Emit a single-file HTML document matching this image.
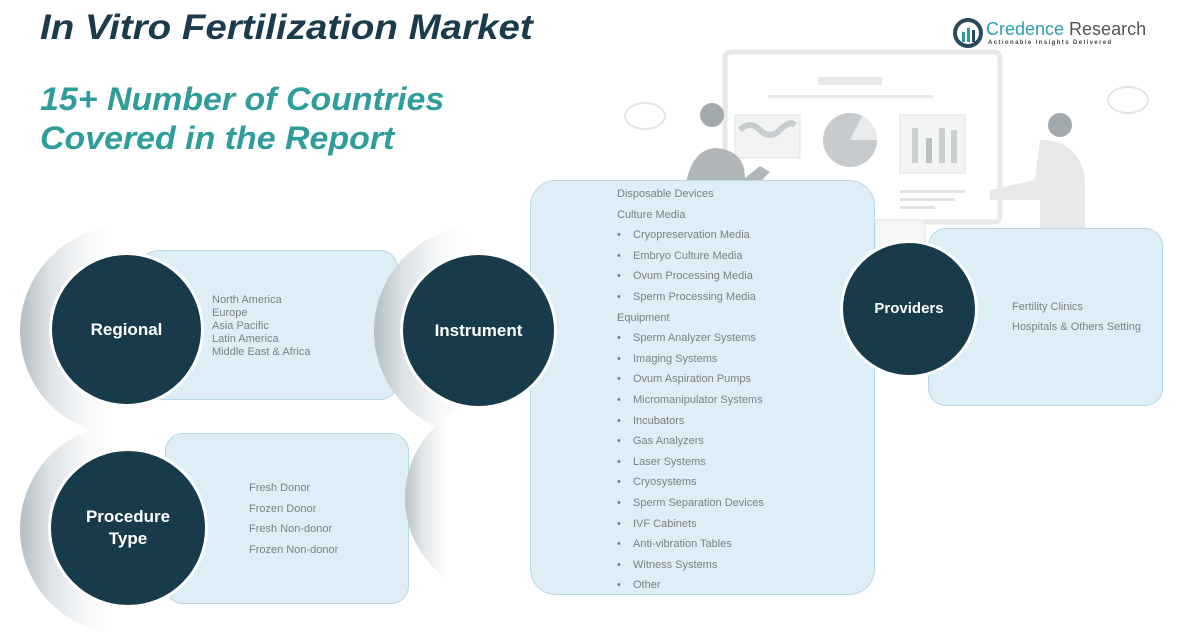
<!DOCTYPE html>
<html><head><meta charset="utf-8"><style>
*{margin:0;padding:0;box-sizing:border-box}
body{width:1203px;height:632px;background:#fff;position:relative;overflow:hidden;font-family:"Liberation Sans",sans-serif}
.abs{position:absolute}
.t1{left:40px;top:8px;font-size:35px;font-weight:bold;font-style:italic;color:#1b3a4b;white-space:nowrap;transform-origin:left top;transform:scaleX(1.1)}
.t2{left:40px;top:80px;font-size:32px;font-weight:bold;font-style:italic;color:#2f9e9b;line-height:39px;white-space:nowrap;transform-origin:left top;transform:scaleX(1.06)}
.box{position:absolute;background:#dfeef6;border:1.5px solid #b8d8e7;border-radius:18px}
.circ{position:absolute;border-radius:50%;background:#173b4b;color:#fff;font-weight:bold;font-size:17px;display:flex;align-items:center;justify-content:center;text-align:center;line-height:22px;border:3px solid #fff}
.shadow{position:absolute;border-radius:50%;background:linear-gradient(90deg,#b3bec3 0%,#dde2e5 14%,#f6f7f8 30%,#fff 45%)}
.lst{position:absolute;color:#7b8186;font-size:11px;white-space:nowrap}
.mid div{height:20.6px;line-height:20.6px}
.b{display:inline-block;width:16px}
</style></head><body>
<!-- illustration -->
<svg class="abs" style="left:600px;top:30px" width="603" height="220">
<rect x="125" y="22" width="275" height="170" rx="6" fill="none" stroke="#e6e8e9" stroke-width="5"/>
<rect x="218" y="47" width="64" height="8" fill="#e6e8e9"/>
<rect x="168" y="65" width="165" height="3" fill="#e8eaeb"/>
<rect x="135" y="85" width="65" height="43" fill="#f2f3f3" stroke="#e2e4e5"/>
<path d="M140 100 q10 -10 20 0 t20 0 t15 -5" stroke="#c8ccce" stroke-width="6" fill="none"/>
<circle cx="250" cy="110" r="27" fill="#c8cbcd"/>
<path d="M250 110 L262 86 A27 27 0 0 1 277 110 Z" fill="#e8eaeb"/>
<rect x="300" y="85" width="65" height="58" fill="#f3f4f4" stroke="#e2e4e5"/>
<rect x="312" y="98" width="6" height="35" fill="#cdd0d2"/><rect x="326" y="108" width="6" height="25" fill="#bcc0c2"/><rect x="339" y="98" width="6" height="35" fill="#cdd0d2"/><rect x="351" y="100" width="6" height="33" fill="#cdd0d2"/>
<rect x="300" y="160" width="65" height="3" fill="#e0e2e3"/><rect x="300" y="168" width="55" height="3" fill="#e0e2e3"/><rect x="300" y="176" width="35" height="3" fill="#e0e2e3"/>
<ellipse cx="45" cy="86" rx="20" ry="13" fill="none" stroke="#e3e5e6" stroke-width="2"/>
<ellipse cx="528" cy="70" rx="20" ry="13" fill="none" stroke="#e3e5e6" stroke-width="2"/>
<circle cx="112" cy="85" r="12" fill="#a3aaae"/>
<path d="M85 160 q5 -40 30 -42 q30 2 30 30 l15 -12 l10 6 l-25 25 l0 20 l-60 0 z" fill="#b1b6b9"/>
<circle cx="460" cy="95" r="12" fill="#a3aaae"/>
<path d="M440 110 q40 0 45 40 l0 50 l-45 0 l0 -30 l-50 0 l0 -10 l45 -10 z" fill="#e6e8e9"/>
<rect x="445" y="200" width="50" height="20" fill="#b1b6b9"/>
<rect x="275" y="190" width="50" height="33" fill="#f5f6f6" stroke="#e2e4e5"/>
</svg>
<div class="abs t1">In Vitro Fertilization Market</div>
<div class="abs t2">15+ Number of Countries<br>Covered in the Report</div>
<!-- logo -->
<svg class="abs" style="left:953px;top:18px" width="30" height="30"><circle cx="15" cy="15" r="13" fill="none" stroke="#2a4a5c" stroke-width="4"/><rect x="9" y="14" width="3" height="10" fill="#2a9d9a"/><rect x="14" y="10" width="3" height="14" fill="#2a9d9a"/><rect x="19" y="12" width="3" height="12" fill="#2a4a5c"/></svg>
<div class="abs" style="left:986px;top:19px;font-size:18px;color:#555;white-space:nowrap"><span style="color:#2a9db0">Credence</span> Research</div>
<div class="abs" style="left:988px;top:40px;font-size:6px;letter-spacing:1.4px;color:#444;white-space:nowrap;font-weight:bold">Actionable Insights Delivered</div>

<!-- regional -->
<div class="shadow" style="left:20px;top:226px;width:210px;height:210px"></div>
<div class="box" style="left:140px;top:250px;width:258px;height:150px"></div>
<div class="circ" style="left:49px;top:252px;width:155px;height:155px">Regional</div>
<div class="lst" style="left:212px;top:294px;line-height:13px">North America<br>Europe<br>Asia Pacific<br>Latin America<br>Middle East &amp; Africa</div>

<!-- procedure -->
<div class="shadow" style="left:20px;top:424px;width:210px;height:210px"></div>
<div class="box" style="left:165px;top:433px;width:244px;height:171px"></div>
<div class="circ" style="left:48px;top:448px;width:160px;height:160px">Procedure<br>Type</div>
<div class="lst" style="left:249px;top:478px;line-height:20.5px">Fresh Donor<br>Frozen Donor<br>Fresh Non-donor<br>Frozen Non-donor</div>

<!-- instrument -->
<div class="shadow" style="left:374px;top:226px;width:210px;height:210px"></div>
<div class="shadow" style="left:405px;top:398px;width:200px;height:200px;background:linear-gradient(90deg,#b8c2c7 0%,#e6eaec 10%,#fff 22%)"></div>
<div class="box" style="left:530px;top:180px;width:345px;height:415px;border-radius:26px"></div>
<div class="circ" style="left:400px;top:252px;width:157px;height:157px">Instrument</div>
<div class="lst mid" style="left:617px;top:184px">
<div>Disposable Devices</div><div>Culture Media</div>
<div><span class="b">•</span>Cryopreservation Media</div>
<div><span class="b">•</span>Embryo Culture Media</div>
<div><span class="b">•</span>Ovum Processing Media</div>
<div><span class="b">•</span>Sperm Processing Media</div>
<div>Equipment</div>
<div><span class="b">•</span>Sperm Analyzer Systems</div>
<div><span class="b">•</span>Imaging Systems</div>
<div><span class="b">•</span>Ovum Aspiration Pumps</div>
<div><span class="b">•</span>Micromanipulator Systems</div>
<div><span class="b">•</span>Incubators</div>
<div><span class="b">•</span>Gas Analyzers</div>
<div><span class="b">•</span>Laser Systems</div>
<div><span class="b">•</span>Cryosystems</div>
<div><span class="b">•</span>Sperm Separation Devices</div>
<div><span class="b">•</span>IVF Cabinets</div>
<div><span class="b">•</span>Anti-vibration Tables</div>
<div><span class="b">•</span>Witness Systems</div>
<div><span class="b">•</span>Other</div>
</div>

<!-- providers -->
<div class="box" style="left:928px;top:228px;width:235px;height:178px"></div>
<div class="circ" style="left:840px;top:240px;width:138px;height:138px;font-size:15px">Providers</div>
<div class="lst" style="left:1012px;top:297px;line-height:20px">Fertility Clinics<br>Hospitals &amp; Others Setting</div>
</body></html>
